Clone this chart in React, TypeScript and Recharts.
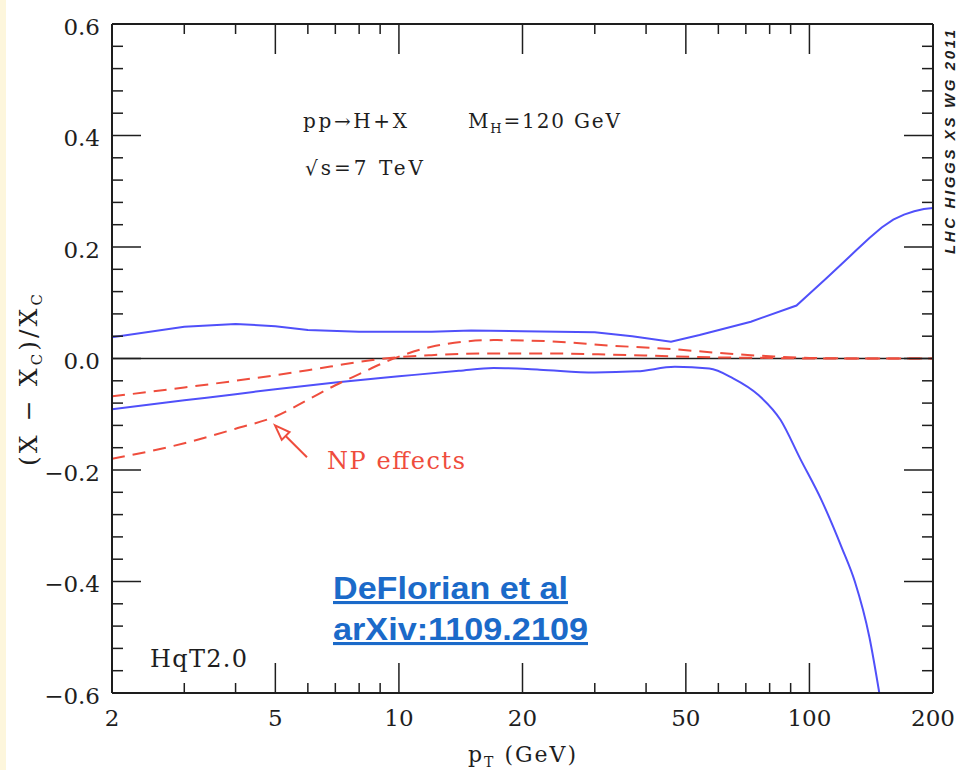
import React from "react";
import { LineChart, Line, XAxis, YAxis, ReferenceLine } from "recharts";

// pT (GeV) positions and (X - Xc)/Xc
const ptUpper = [2, 3, 4, 5, 6, 8, 12, 15, 20, 30, 37, 46, 54, 72, 93, 100, 110, 120, 130, 140, 150, 160, 170, 180, 190, 200];
const upperBand = [0.038, 0.057, 0.062, 0.058, 0.051, 0.048, 0.048, 0.05, 0.049, 0.047, 0.04, 0.03, 0.042, 0.066, 0.095, 0.116, 0.144, 0.17, 0.194, 0.216, 0.235, 0.249, 0.258, 0.264, 0.268, 0.27];

const ptLower = [2, 3, 4, 5, 7, 10, 14, 17, 22, 30, 38, 47, 57, 65, 75, 85, 95, 107, 120, 129, 140, 148];
const lowerBand = [-0.091, -0.075, -0.064, -0.055, -0.043, -0.032, -0.022, -0.017, -0.02, -0.025, -0.023, -0.015, -0.018, -0.035, -0.065, -0.11, -0.18, -0.254, -0.34, -0.4, -0.5, -0.6];

const ptNp = [2, 3, 4, 5, 6, 7, 8, 9.5, 12, 17, 23, 33, 46, 60, 80, 100, 140, 200];
const npSoft = [-0.068, -0.052, -0.04, -0.03, -0.021, -0.013, -0.006, 0.001, 0.006, 0.009, 0.009, 0.007, 0.004, 0.002, 0.001, 0, 0, 0];
const npHard = [-0.18, -0.152, -0.126, -0.104, -0.074, -0.048, -0.028, -0.003, 0.021, 0.033, 0.031, 0.023, 0.017, 0.01, 0.004, 0.001, 0, 0];

const xMajor = [2, 5, 10, 20, 50, 100, 200];
const xMinor = [3, 4, 6, 7, 8, 9, 30, 40, 60, 70, 80, 90];
const yMajor = [-0.6, -0.4, -0.2, 0, 0.2, 0.4, 0.6];

// arrow for the "NP effects" note: tail -> tip, in data units
const arrowFrom = { x: 5.97, y: -0.177 };
const arrowTo = { x: 4.99, y: -0.12 };

const W = 958;
const H = 770;
const SERIF = "'DejaVu Serif', serif";
const INK = "#1e1e1e";
const BLUE = "#5050fa";
const RED = "#ef4d3d";

const xTicks = [...xMajor, ...xMinor].sort((a, b) => a - b);
const yTicks = Array.from({ length: 31 }, (_, i) => +(-0.6 + i * 0.04).toFixed(2));

const toPts = (xs: number[], ys: number[]) => xs.map((x, i) => ({ x, y: ys[i] }));
const upperData = toPts(ptUpper, upperBand);
const lowerData = toPts(ptLower, lowerBand);
const softData = toPts(ptNp, npSoft);
const hardData = toPts(ptNp, npHard);

const isYMajor = (v: number) => yMajor.some((m) => Math.abs(m - v) < 1e-6);
const fmtY = (v: number) => (v < -1e-9 ? "\u2212" : "") + Math.abs(v).toFixed(1);

function BottomTick({ x, y, payload }: any) {
  const major = xMajor.includes(payload.value);
  return (
    <g>
      <line x1={x} x2={x} y1={y} y2={y - (major ? 30 : 10)} stroke={INK} strokeWidth={1.5} />
      {major && (
        <text x={x} y={y + 33} textAnchor="middle" fontFamily={SERIF} fontSize={23} fill={INK}>
          {payload.value}
        </text>
      )}
    </g>
  );
}

function TopTick({ x, y, payload }: any) {
  const major = xMajor.includes(payload.value);
  return <line x1={x} x2={x} y1={y} y2={y + (major ? 30 : 10)} stroke={INK} strokeWidth={1.5} />;
}

function LeftTick({ x, y, payload }: any) {
  const major = isYMajor(payload.value);
  return (
    <g>
      <line x1={x} x2={x + (major ? 29 : 11)} y1={y} y2={y} stroke={INK} strokeWidth={1.5} />
      {major && (
        <text x={x - 12} y={y + 10.5} textAnchor="end" fontFamily={SERIF} fontSize={23} fill={INK}>
          {fmtY(payload.value)}
        </text>
      )}
    </g>
  );
}

function RightTick({ x, y, payload }: any) {
  const major = isYMajor(payload.value);
  return <line x1={x} x2={x - (major ? 29 : 11)} y1={y} y2={y} stroke={INK} strokeWidth={1.5} />;
}

function ArrowShape(props: any) {
  const { x1, y1, x2, y2 } = props;
  const a = Math.atan2(y2 - y1, x2 - x1);
  const len = 15;
  const half = 5.5;
  const bx = x2 - len * Math.cos(a);
  const by = y2 - len * Math.sin(a);
  const px = -Math.sin(a) * half;
  const py = Math.cos(a) * half;
  return (
    <g>
      <line x1={x1} y1={y1} x2={bx} y2={by} stroke={RED} strokeWidth={2} />
      <polygon
        points={`${x2},${y2} ${bx + px},${by + py} ${bx - px},${by - py}`}
        fill="#fff"
        stroke={RED}
        strokeWidth={2}
      />
    </g>
  );
}

function Notes() {
  return (
    <g fontFamily={SERIF} fill={INK}>
      <text x={303} y={128} fontSize={20} textLength={104}>pp→H+X</text>
      <text x={468} y={128} fontSize={20} textLength={152}>
        M<tspan fontSize={13} dy={5}>H</tspan>
        <tspan dy={-5}>=120 GeV</tspan>
      </text>
      <text x={305} y={175} fontSize={20} textLength={118}>√s=7 TeV</text>
      <text x={150} y={667} fontSize={24} textLength={97}>HqT2.0</text>
      <text x={327} y={469} fontSize={24} fill={RED} textLength={138}>NP effects</text>
      <text transform="translate(37,380) rotate(-90)" textAnchor="middle" fontSize={25} textLength={172}>
        (X − X<tspan fontSize={15} dy={5}>C</tspan>
        <tspan dy={-5}>)/X</tspan>
        <tspan fontSize={15} dy={5}>C</tspan>
      </text>
      <text x={468} y={762} fontSize={22} textLength={108}>
        p<tspan fontSize={14} dy={5}>T</tspan>
        <tspan dy={-5}> (GeV)</tspan>
      </text>
      <text
        transform="translate(955,142) rotate(-90)"
        textAnchor="middle"
        fontFamily="'Liberation Sans', Arial, sans-serif"
        fontWeight="bold"
        fontStyle="italic"
        fontSize={15}
        textLength={224}
      >
        LHC HIGGS XS WG 2011
      </text>
      <g fontFamily="'Liberation Sans', Arial, sans-serif" fontWeight="bold" fontSize={31} fill="#1b6ac9">
        <text x={333} y={599} textDecoration="underline" textLength={235} lengthAdjust="spacingAndGlyphs">
          DeFlorian et al
        </text>
        <text x={333} y={640} textDecoration="underline" textLength={255} lengthAdjust="spacingAndGlyphs">
          arXiv:1109.2109
        </text>
      </g>
    </g>
  );
}

export default function App() {
  return (
    <div style={{ position: "absolute", left: 0, top: 0, width: W, height: H, background: "#fff" }}>
      <div style={{ position: "absolute", left: 0, top: 0, width: 6, height: H, background: "#fdf6dc" }} />
      <LineChart width={W} height={H} margin={{ top: 0, right: 0, bottom: 0, left: 0 }}>
        <XAxis
          dataKey="x"
          type="number"
          scale="log"
          domain={[2, 200]}
          ticks={xTicks}
          interval={0}
          height={77}
          allowDataOverflow
          axisLine={{ stroke: INK, strokeWidth: 2 }}
          tickLine={false}
          tickSize={0}
          tickMargin={0}
          tick={<BottomTick />}
        />
        <XAxis
          xAxisId="top"
          orientation="top"
          dataKey="x"
          type="number"
          scale="log"
          domain={[2, 200]}
          ticks={xTicks}
          interval={0}
          height={24}
          allowDataOverflow
          axisLine={{ stroke: INK, strokeWidth: 2 }}
          tickLine={false}
          tickSize={0}
          tickMargin={0}
          tick={<TopTick />}
        />
        <YAxis
          type="number"
          domain={[-0.6, 0.6]}
          ticks={yTicks}
          interval={0}
          width={112}
          allowDataOverflow
          axisLine={{ stroke: INK, strokeWidth: 2 }}
          tickLine={false}
          tickSize={0}
          tickMargin={0}
          tick={<LeftTick />}
        />
        <YAxis
          yAxisId="right"
          orientation="right"
          type="number"
          domain={[-0.6, 0.6]}
          ticks={yTicks}
          interval={0}
          width={25}
          allowDataOverflow
          axisLine={{ stroke: INK, strokeWidth: 2 }}
          tickLine={false}
          tickSize={0}
          tickMargin={0}
          tick={<RightTick />}
        />
        <ReferenceLine y={0} stroke={INK} strokeWidth={1.5} />
        <Line data={upperData} dataKey="y" type="linear" stroke={BLUE} strokeWidth={2} dot={false} isAnimationActive={false} />
        <Line data={lowerData} dataKey="y" type="monotone" stroke={BLUE} strokeWidth={2} dot={false} isAnimationActive={false} />
        <Line data={softData} dataKey="y" type="monotone" stroke={RED} strokeWidth={2} strokeDasharray="13 8" dot={false} isAnimationActive={false} />
        <Line data={hardData} dataKey="y" type="monotone" stroke={RED} strokeWidth={2} strokeDasharray="13 8" dot={false} isAnimationActive={false} />
        <ReferenceLine segment={[arrowFrom, arrowTo]} shape={<ArrowShape />} />
        <Notes />
      </LineChart>
    </div>
  );
}
